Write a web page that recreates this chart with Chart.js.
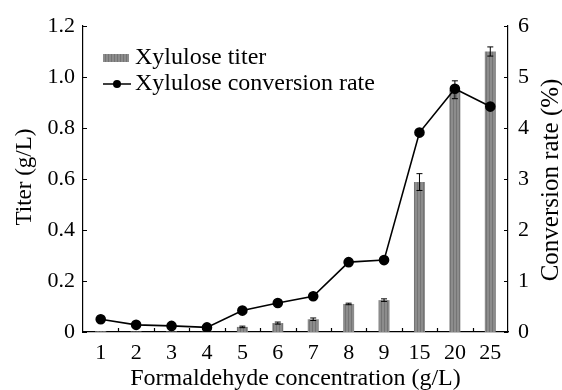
<!DOCTYPE html>
<html>
<head>
<meta charset="utf-8">
<script src="https://cdn.jsdelivr.net/npm/chart.js@4"></script>
<style>
  html, body { margin: 0; padding: 0; background: #fff; }
  #wrap { width: 562px; height: 390px; }
</style>
</head>
<body>
<div id="wrap"><canvas id="chart"></canvas></div>
<script>
// data
const concentrations = ['1', '2', '3', '4', '5', '6', '7', '8', '9', '15', '20', '25'];
const titer = [0.003, 0.002, 0.002, 0.001, 0.02, 0.035, 0.05, 0.11, 0.125, 0.588, 0.95, 1.10];
const titerErr = [0, 0, 0, 0, 0.003, 0.004, 0.005, 0.003, 0.005, 0.033, 0.035, 0.018];
const conversion = [0.25, 0.14, 0.12, 0.09, 0.42, 0.57, 0.70, 1.37, 1.41, 3.91, 4.77, 4.42];

const leftTitle = 'Titer (g/L)';
const rightTitle = 'Conversion rate (%)';
const bottomTitle = 'Formaldehyde concentration (g/L)';

const serif = "'Liberation Serif', 'Times New Roman', serif";
const tickSize = 22;
const textSize = 24;

// striped grey fill for the bars
function stripePattern() {
    const c = document.createElement('canvas');
    c.width = 3; c.height = 4;
    const g = c.getContext('2d');
    g.fillStyle = '#8c8c8c';
    g.fillRect(0, 0, 3, 4);
    g.fillStyle = '#747474';
    g.fillRect(0, 0, 1, 4);
    return g.createPattern(c, 'repeat');
}

// error bars, inward ticks, axis titles and in-plot legend
const extras = {
    id: 'extras',
    afterDatasetsDraw(chart) {
        const ctx = chart.ctx;
        const y = chart.scales.y;
        const meta = chart.getDatasetMeta(0);
        ctx.save();
        ctx.strokeStyle = '#000';
        ctx.lineWidth = 1;
        meta.data.forEach((bar, i) => {
            const e = titerErr[i];
            if (!e) return;
            const top = y.getPixelForValue(titer[i] + e);
            const bot = y.getPixelForValue(titer[i] - e);
            ctx.beginPath();
            ctx.moveTo(bar.x, top); ctx.lineTo(bar.x, bot);
            ctx.moveTo(bar.x - 3, top); ctx.lineTo(bar.x + 3, top);
            ctx.moveTo(bar.x - 3, bot); ctx.lineTo(bar.x + 3, bot);
            ctx.stroke();
        });
        ctx.restore();
    },
    afterDraw(chart) {
        const ctx = chart.ctx;
        const a = chart.chartArea;
        const x = chart.scales.x, y = chart.scales.y, y1 = chart.scales.y1;
        ctx.save();
        ctx.strokeStyle = '#000';
        ctx.lineWidth = 1.2;
        ctx.beginPath();
        y.ticks.forEach(t => {
            const p = Math.round(y.getPixelForValue(t.value)) + 0.5;
            ctx.moveTo(a.left, p); ctx.lineTo(a.left + 4, p);
        });
        y1.ticks.forEach(t => {
            const p = Math.round(y1.getPixelForValue(t.value)) + 0.5;
            ctx.moveTo(a.right, p); ctx.lineTo(a.right - 4, p);
        });
        for (let i = 0; i < concentrations.length - 1; i++) {
            const p = Math.round((x.getPixelForValue(i) + x.getPixelForValue(i + 1)) / 2) + 0.5;
            ctx.moveTo(p, a.bottom); ctx.lineTo(p, a.bottom - 4);
        }
        ctx.stroke();

        ctx.fillStyle = '#000';
        ctx.textAlign = 'center';
        ctx.textBaseline = 'middle';
        // both y titles read bottom-to-top
        ctx.save();
        ctx.font = '23px ' + serif;
        ctx.translate(25, 177);
        ctx.rotate(-Math.PI / 2);
        ctx.fillText(leftTitle, 0, 0);
        ctx.restore();
        ctx.save();
        ctx.font = '25px ' + serif;
        ctx.translate(551, 180);
        ctx.rotate(-Math.PI / 2);
        ctx.fillText(rightTitle, 0, 0);
        ctx.restore();

        // legend
        ctx.font = textSize + 'px ' + serif;
        const lx = a.left + 20, ly1 = a.top + 32, ly2 = a.top + 58;
        ctx.fillStyle = stripePattern();
        ctx.fillRect(lx, ly1 - 4, 26, 8);
        ctx.lineWidth = 1.5;
        ctx.beginPath();
        ctx.moveTo(lx, ly2); ctx.lineTo(lx + 28, ly2);
        ctx.stroke();
        ctx.fillStyle = '#000';
        ctx.beginPath();
        ctx.arc(lx + 14, ly2, 4, 0, Math.PI * 2);
        ctx.fill();
        ctx.textAlign = 'left';
        ctx.fillText(chart.data.datasets[0].label, lx + 32, ly1);
        ctx.fillText(chart.data.datasets[1].label, lx + 32, ly2);
        ctx.restore();
    }
};

document.addEventListener('DOMContentLoaded', () => {
    const tickFont = { family: serif, size: tickSize };
    new Chart('chart', {
        type: 'bar',
        data: {
            labels: concentrations,
            datasets: [{
                type: 'bar',
                label: 'Xylulose titer',
                data: titer,
                yAxisID: 'y',
                backgroundColor: stripePattern(),
                categoryPercentage: 1,
                barPercentage: 0.31,
                order: 2
            }, {
                type: 'line',
                label: 'Xylulose conversion rate',
                data: conversion,
                yAxisID: 'y1',
                borderColor: '#000',
                borderWidth: 1.6,
                pointRadius: 4.5,
                pointBackgroundColor: '#000',
                pointBorderColor: '#000',
                tension: 0,
                order: 1
            }]
        },
        options: {
            responsive: true,
            maintainAspectRatio: false,
            animation: false,
            layout: { padding: { top: 26, left: 0, right: 0, bottom: 0 } },
            plugins: { legend: { display: false }, tooltip: { enabled: false } },
            scales: {
                x: {
                    grid: { display: false, drawTicks: false },
                    border: { color: '#000', width: 1.2 },
                    ticks: { color: '#000', font: tickFont, padding: 8, maxRotation: 0, autoSkip: false },
                    title: { display: true, text: bottomTitle, color: '#000', font: { family: serif, size: textSize }, padding: { top: 0, bottom: -3 } },
                    afterFit(s) { s.height = 58; }
                },
                y: {
                    position: 'left',
                    min: 0, max: 1.2,
                    grid: { display: false, drawTicks: false },
                    border: { color: '#000', width: 1.2 },
                    ticks: {
                        stepSize: 0.2, color: '#000', font: tickFont, padding: 8,
                        callback: v => v === 0 ? '0' : v.toFixed(1)
                    },
                    afterFit(s) { s.width = 83; }
                },
                y1: {
                    position: 'right',
                    min: 0, max: 6,
                    grid: { display: false, drawTicks: false },
                    border: { color: '#000', width: 1.2 },
                    ticks: { stepSize: 1, color: '#000', font: tickFont, padding: 10 },
                    afterFit(s) { s.width = 54; }
                }
            }
        },
        plugins: [extras]
    });
});
</script>
</body>
</html>
